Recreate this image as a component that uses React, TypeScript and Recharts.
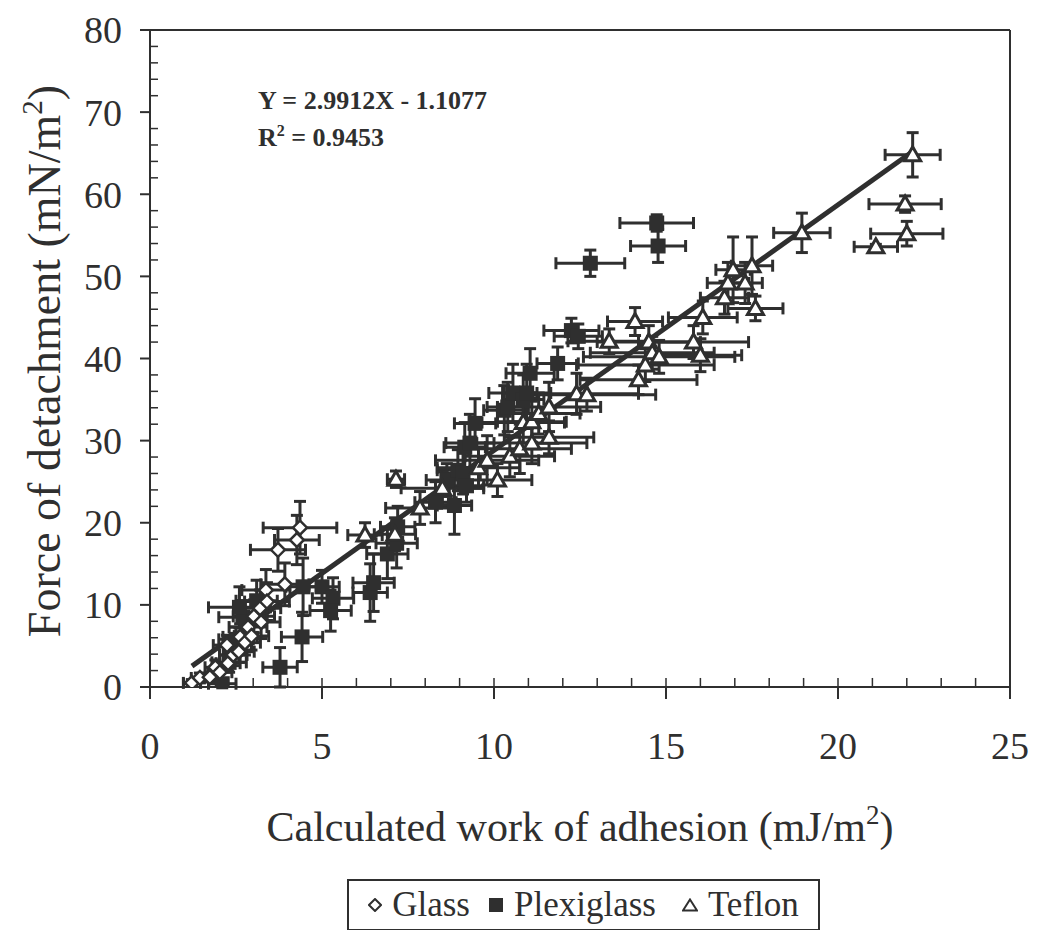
import React from 'react';
import { ScatterChart, Scatter, XAxis, YAxis, ErrorBar, ReferenceLine, Legend, Customized } from 'recharts';

// each point: [work of adhesion, force of detachment, x error, y error]
type Pt = [number, number, number, number];

const glass: Pt[] = [
  [1.22, 0.5, 0.25, 0.4],
  [1.45, 1.1, 0.25, 0.6],
  [1.74, 1.2, 0.3, 0.6],
  [1.9, 2.4, 0.3, 0.9],
  [2.03, 1.8, 0.35, 0.8],
  [2.24, 5.1, 0.4, 1.2],
  [2.27, 2.9, 0.35, 1.0],
  [2.42, 3.9, 0.4, 1.3],
  [2.58, 4.3, 0.45, 1.3],
  [2.62, 6.1, 0.5, 1.6],
  [2.76, 5.4, 0.45, 1.5],
  [2.85, 7.3, 0.55, 1.8],
  [2.95, 6.2, 0.5, 1.7],
  [3.02, 8.6, 0.6, 2.0],
  [3.2, 9.6, 0.6, 2.2],
  [3.23, 7.9, 0.55, 2.0],
  [3.37, 11.8, 0.7, 2.5],
  [3.4, 10.4, 0.65, 2.3],
  [3.92, 12.5, 0.7, 2.6],
  [3.72, 16.7, 0.8, 2.6],
  [4.27, 17.9, 0.65, 3.0],
  [4.36, 19.4, 1.07, 3.2],
];

const plexiglass: Pt[] = [
  [2.1, 0.4, 0.4, 0.5],
  [2.3, 3.0, 0.5, 1.2],
  [2.5, 5.8, 0.5, 1.5],
  [2.7, 8.5, 0.7, 2.0],
  [2.6, 9.7, 0.9, 2.5],
  [3.1, 10.5, 0.6, 2.5],
  [3.78, 2.4, 0.5, 2.4],
  [4.42, 6.1, 0.6, 3.0],
  [4.45, 12.2, 0.5, 3.5],
  [5.0, 12.2, 0.5, 2.0],
  [5.32, 10.8, 0.6, 2.5],
  [5.25, 9.3, 0.6, 2.5],
  [6.4, 11.5, 0.5, 3.5],
  [6.5, 12.7, 0.6, 3.5],
  [6.9, 16.2, 0.6, 3.0],
  [7.17, 17.5, 0.6, 3.0],
  [7.2, 19.5, 0.5, 2.5],
  [8.3, 22.5, 0.6, 2.5],
  [8.63, 25.2, 0.6, 2.0],
  [8.85, 22.1, 0.5, 3.5],
  [8.95, 26.4, 0.6, 2.5],
  [9.1, 26.0, 0.5, 2.5],
  [9.2, 24.5, 0.5, 2.0],
  [9.15, 29.2, 0.6, 3.0],
  [9.3, 29.7, 0.7, 3.5],
  [9.45, 32.1, 0.6, 3.0],
  [10.3, 33.7, 0.6, 3.0],
  [10.4, 34.1, 0.6, 3.0],
  [10.55, 35.8, 0.7, 3.5],
  [10.85, 35.0, 0.6, 3.0],
  [10.95, 35.8, 0.7, 3.5],
  [11.05, 38.2, 0.7, 3.0],
  [11.85, 39.4, 0.6, 2.0],
  [12.25, 43.4, 0.8, 1.5],
  [12.45, 42.7, 0.7, 1.5],
  [12.8, 51.6, 1.0, 1.6],
  [14.73, 56.5, 1.07, 1.0],
  [14.77, 53.7, 0.8, 2.0],
];

const teflon: Pt[] = [
  [6.25, 18.5, 0.5, 1.5],
  [7.12, 18.6, 0.6, 2.0],
  [7.15, 25.3, 0.25, 1.0],
  [7.85, 21.8, 1.0, 2.0],
  [8.5, 24.2, 1.2, 2.0],
  [9.55, 26.7, 1.2, 2.5],
  [9.8, 27.6, 1.5, 3.0],
  [10.1, 25.2, 1.0, 2.0],
  [10.46, 28.1, 1.3, 2.5],
  [10.75, 29.0, 1.5, 3.0],
  [11.1, 29.7, 1.6, 2.5],
  [11.6, 30.4, 1.3, 2.0],
  [10.85, 32.2, 1.2, 2.5],
  [11.1, 32.3, 1.0, 2.5],
  [11.3, 33.3, 1.2, 2.5],
  [11.6, 34.1, 1.5, 3.0],
  [12.4, 35.7, 1.8, 2.5],
  [12.7, 35.6, 2.0, 2.0],
  [13.35, 42.1, 1.2, 1.5],
  [14.1, 44.5, 0.8, 1.7],
  [14.2, 37.4, 1.7, 1.8],
  [14.4, 39.2, 2.0, 2.0],
  [14.5, 42.0, 1.5, 2.0],
  [14.6, 40.7, 1.8, 2.0],
  [14.8, 40.2, 2.2, 2.0],
  [15.8, 42.0, 1.6, 2.0],
  [16.0, 40.4, 1.2, 2.0],
  [16.07, 45.0, 1.0, 2.0],
  [16.7, 47.4, 0.7, 2.0],
  [16.8, 49.2, 0.6, 2.5],
  [16.95, 50.8, 0.5, 4.0],
  [17.3, 49.2, 0.5, 2.5],
  [17.5, 51.3, 0.6, 3.5],
  [17.6, 46.1, 0.8, 1.5],
  [18.95, 55.3, 0.82, 2.4],
  [21.1, 53.6, 0.63, 0.3],
  [22.0, 55.2, 1.05, 1.5],
  [21.95, 58.8, 1.05, 1.0],
  [22.17, 64.8, 0.8, 2.7],
];

const xTicks = [0, 5, 10, 15, 20, 25];
const yTicks = [0, 10, 20, 30, 40, 50, 60, 70, 80];
const xMinorTicks = [1, 2, 3, 4, 5, 6, 7, 8, 9, 10, 11, 12, 13, 14, 15, 16, 17, 18, 19, 20, 21, 22, 23, 24];
const yMinorTicks = [2, 4, 6, 8, 12, 14, 16, 18, 22, 24, 26, 28, 32, 34, 36, 38, 42, 44, 46, 48, 52, 54, 56, 58, 62, 64, 66, 68, 72, 74, 76, 78];

// linear fit printed on the chart
const fitSlope = 2.9912;
const fitIntercept = -1.1077;
const fitFrom = 1.22;
const fitTo = 22.17;
const fitR2 = '0.9453';

const INK = '#2f2f2f';
const FONT = '"Liberation Serif", "Times New Roman", serif';
// length of the inward minor x ticks, in y units (about 9px)
const MINOR_TICK_LEN = 1.1;

const rows = (pts: Pt[]) => pts.map(([x, y, xe, ye]) => ({ x, y, xe, ye }));

const Diamond = (p: any) => (
  <path
    d={`M${p.cx},${p.cy - 7} L${p.cx + 7},${p.cy} L${p.cx},${p.cy + 7} L${p.cx - 7},${p.cy} Z`}
    fill="#fff"
    stroke={INK}
    strokeWidth={2.5}
  />
);

const Square = (p: any) => <rect x={p.cx - 7.5} y={p.cy - 7.5} width={15} height={15} fill={INK} />;

const Triangle = (p: any) => (
  <path
    d={`M${p.cx},${p.cy - 8} L${p.cx + 8},${p.cy + 6} L${p.cx - 8},${p.cy + 6} Z`}
    fill="#fff"
    stroke={INK}
    strokeWidth={3}
    strokeLinejoin="miter"
  />
);

// minor y axis only needs the tick marks
const NoLabel = () => <g />;

const XTitle = ({ viewBox }: any) => (
  <text x={viewBox.x + viewBox.width / 2} y={viewBox.y + 154} textAnchor="middle" fontSize={42} fill={INK} fontFamily={FONT}>
    Calculated work of adhesion (mJ/m<tspan dy={-17} fontSize={27}>2</tspan>
    <tspan dy={17}>)</tspan>
  </text>
);

const YTitle = () => (
  <text x={60} y={361} transform="rotate(-90 60 361)" textAnchor="middle" fontSize={46} fill={INK} fontFamily={FONT}>
    Force of detachment (mN/m<tspan dy={-18} fontSize={29}>2</tspan>
    <tspan dy={18}>)</tspan>
  </text>
);

const Equation = () => (
  <g fontFamily={FONT} fontWeight="bold" fontSize={26} fill={INK}>
    <text x={258} y={109}>{`Y = ${fitSlope}X - ${Math.abs(fitIntercept)}`}</text>
    <text x={258} y={146}>
      R<tspan dy={-10} fontSize={16}>2</tspan>
      <tspan dy={10}>{` = ${fitR2}`}</tspan>
    </text>
  </g>
);

const LegendBox = () => (
  <div
    style={{
      border: `2px solid ${INK}`,
      boxSizing: 'border-box',
      height: '100%',
      display: 'flex',
      alignItems: 'center',
      justifyContent: 'center',
      gap: 10,
      fontFamily: FONT,
      fontSize: 35,
      color: INK,
      whiteSpace: 'nowrap',
    }}
  >
    <svg width={14} height={14}><path d="M7,1 L13,7 L7,13 L1,7 Z" fill="#fff" stroke={INK} strokeWidth={2} /></svg>
    <span>Glass</span>
    <svg width={16} height={16} style={{ marginLeft: 8 }}><rect x={1} y={1} width={14} height={14} fill={INK} /></svg>
    <span>Plexiglass</span>
    <svg width={16} height={14} style={{ marginLeft: 16 }}><path d="M8,1.5 L15,12.5 L1,12.5 Z" fill="#fff" stroke={INK} strokeWidth={2} /></svg>
    <span>Teflon</span>
  </div>
);

export default function App() {
  const fitLine = [
    { x: fitFrom, y: fitSlope * fitFrom + fitIntercept },
    { x: fitTo, y: fitSlope * fitTo + fitIntercept },
  ];
  return (
    <div style={{ width: 1037, height: 930, background: '#fff' }}>
      <style>{'body{margin:0}'}</style>
      <ScatterChart width={1037} height={930} margin={{ top: 30, right: 27, bottom: 0, left: 0 }} style={{ fontFamily: FONT }}>
        <XAxis
          xAxisId="main"
          type="number"
          dataKey="x"
          domain={[0, 25]}
          ticks={xTicks}
          allowDataOverflow
          height={243}
          tickSize={12}
          tickMargin={33}
          stroke={INK}
          strokeWidth={2}
          tick={{ fontSize: 38, fill: INK, fontFamily: FONT }}
          label={<XTitle />}
        />
        <YAxis
          yAxisId="main"
          type="number"
          dataKey="y"
          domain={[0, 80]}
          ticks={yTicks}
          allowDataOverflow
          width={150}
          tickSize={10}
          tickMargin={18}
          stroke={INK}
          strokeWidth={2}
          tick={{ fontSize: 38, fill: INK, fontFamily: FONT }}
          label={<YTitle />}
        />
        <YAxis
          yAxisId="minor"
          type="number"
          dataKey="y"
          domain={[0, 80]}
          ticks={yMinorTicks}
          interval={0}
          allowDataOverflow
          mirror
          width={1}
          axisLine={false}
          tick={NoLabel}
          tickSize={8}
          stroke={INK}
          strokeWidth={1.5}
        />
        <ReferenceLine xAxisId="main" yAxisId="main" y={80} stroke={INK} strokeWidth={2} />
        <ReferenceLine xAxisId="main" yAxisId="main" x={25} stroke={INK} strokeWidth={2} />
        {xMinorTicks.map((v) => (
          <ReferenceLine
            key={`mt-${v}`}
            xAxisId="main"
            yAxisId="main"
            segment={[{ x: v, y: 0 }, { x: v, y: MINOR_TICK_LEN }]}
            stroke={INK}
            strokeWidth={1.5}
          />
        ))}
        <ReferenceLine
          xAxisId="main"
          yAxisId="main"
          segment={fitLine}
          stroke={INK}
          strokeWidth={5}
        />
        <Scatter name="Plexiglass" xAxisId="main" yAxisId="main" data={rows(plexiglass)} shape={Square} isAnimationActive={false}>
          <ErrorBar dataKey="xe" direction="x" width={6} stroke={INK} strokeWidth={3} />
          <ErrorBar dataKey="ye" direction="y" width={6} stroke={INK} strokeWidth={3} />
        </Scatter>
        <Scatter name="Glass" xAxisId="main" yAxisId="main" data={rows(glass)} shape={Diamond} isAnimationActive={false}>
          <ErrorBar dataKey="xe" direction="x" width={6} stroke={INK} strokeWidth={3} />
          <ErrorBar dataKey="ye" direction="y" width={6} stroke={INK} strokeWidth={3} />
        </Scatter>
        <Scatter name="Teflon" xAxisId="main" yAxisId="main" data={rows(teflon)} shape={Triangle} isAnimationActive={false}>
          <ErrorBar dataKey="xe" direction="x" width={6} stroke={INK} strokeWidth={3} />
          <ErrorBar dataKey="ye" direction="y" width={6} stroke={INK} strokeWidth={3} />
        </Scatter>
        <Scatter xAxisId="main" yAxisId="minor" data={[]} isAnimationActive={false} legendType="none" />
        <Customized component={Equation} />
        <Legend
          layout="horizontal"
          verticalAlign="middle"
          align="center"
          wrapperStyle={{ left: 347, top: 879, width: 473, height: 52 }}
          content={() => <LegendBox />}
        />
      </ScatterChart>
    </div>
  );
}
